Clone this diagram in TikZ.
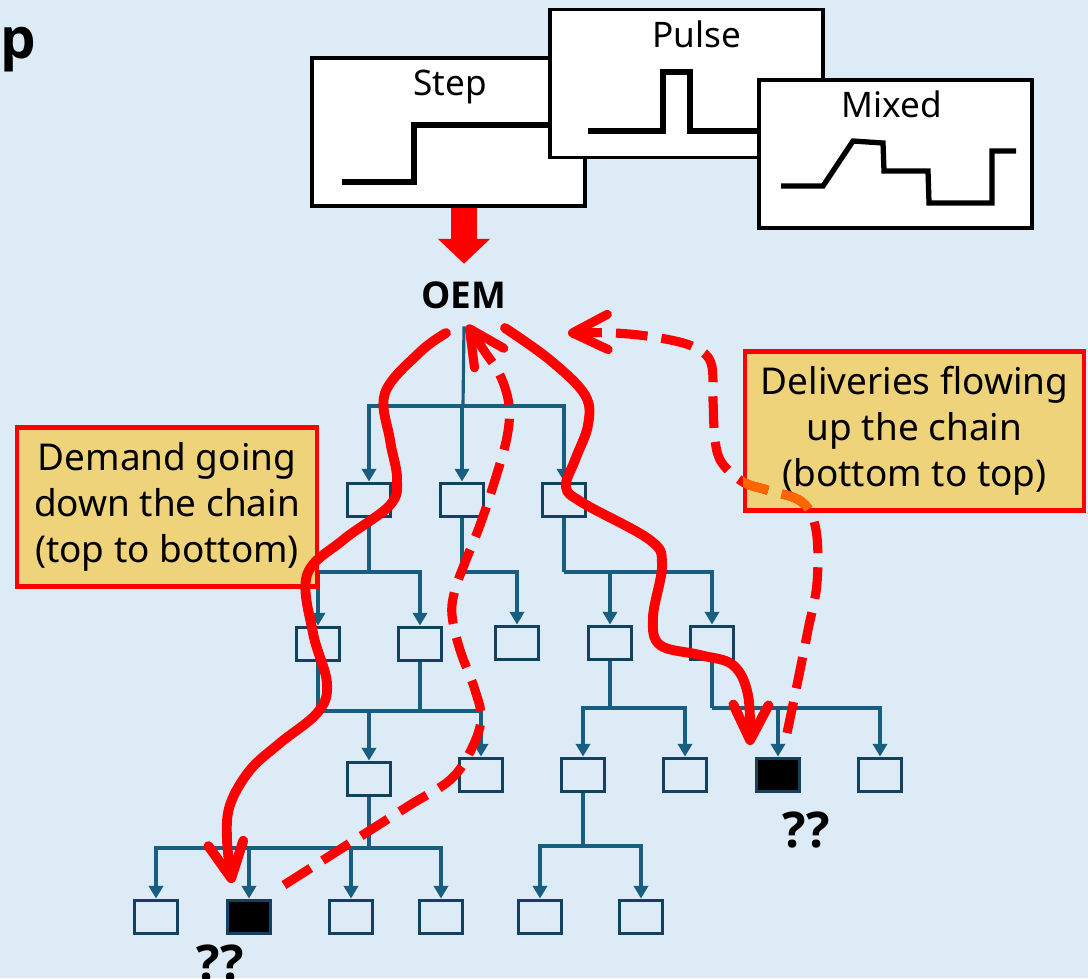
\documentclass[tikz,border=0pt]{standalone}
\usepackage{fontspec}
\setmainfont{Noto Sans}
\setsansfont{Noto Sans}
\newfontfamily\heavyfont{Open Sans}[UprightFont=* Bold]
\usepackage{tikz}
\usetikzlibrary{arrows.meta, positioning}

\definecolor{bgblue}{RGB}{221,235,247}
\definecolor{lineblue}{RGB}{24,94,128}
\definecolor{boxblue}{RGB}{18,66,96}
\definecolor{noteyellow}{RGB}{238,211,122}
\definecolor{dashorange}{RGB}{255,102,0}

% path of the right dashed curve, used twice
\newcommand{\upcurve}{plot[smooth, tension=0.6] coordinates {(787,733) (797,685) (808,630) (817,583) (816,530) (802,502) (767,490) (743,482) (722,463) (715,440) (713,400) (711,363) (694,347) (660,338) (615,333) (568,333)}}

\begin{document}
\begin{tikzpicture}[
    x=0.01cm, y=-0.01cm,
    sigbox/.style={rectangle, draw=black, fill=white, line width=1.1pt, minimum width=2.73cm, minimum height=1.48cm, inner sep=0pt},
    siglabel/.style={font=\sffamily\fontsize{10}{12}\selectfont, inner sep=0pt, anchor=base},
    wave/.style={line width=1.5pt, black},
    tbox/.style={rectangle, draw=boxblue, line width=1.1pt, minimum width=0.43cm, minimum height=0.33cm, inner sep=0pt},
    gapbox/.style={tbox, fill=black},
    link/.style={draw=lineblue, line width=0.9pt},
    feed/.style={link, -{Triangle[width=4pt, length=3.6pt]}},
    note/.style={rectangle, draw=red, fill=noteyellow, line width=1.2pt, minimum width=3cm, minimum height=1.59cm, align=center, font=\sffamily\fontsize{10.5}{13.1}\selectfont},
    demand/.style={red, line width=2.8pt, line cap=round, -{Straight Barb[length=10pt, width=10pt, round]}},
    delivery/.style={red, line width=2.6pt, dash pattern=on 9pt off 4pt, -{Straight Barb[length=10pt, width=10pt, round]}},
    qmark/.style={font=\heavyfont\fontsize{14}{16}\selectfont, inner sep=0pt}
]
    \fill[bgblue] (0,0) rectangle (1088,978);
    \useasboundingbox (0,0) rectangle (1088,978);

    \node[font=\heavyfont\fontsize{16}{18}\selectfont, inner sep=0pt, anchor=base west] (titlep) at (0,58) {p};

    % demand signals
    \node[sigbox] (stepbox) at (448.5,132) {};
    \node[siglabel] (steplbl) at (450,95) {Step};
    \draw[wave] (342,182) -- (414,182) -- (414,125) -- (560,125);
    \node[sigbox] (pulsebox) at (686.5,83.5) {};
    \node[siglabel] (pulselbl) at (697,47) {Pulse};
    \draw[wave] (588,131) -- (663,131) -- (663,72) -- (690,72) -- (690,131) -- (770,131);
    \node[sigbox] (mixedbox) at (895.5,154) {};
    \node[siglabel] (mixedlbl) at (892,117) {Mixed};
    \draw[wave] (781,186) -- (823,186) -- (853,141) -- (883,143) -- (884,171) -- (928,171) -- (929,203) -- (992,203) -- (992,151) -- (1016,151);

    \node[font=\heavyfont\fontsize{10.5}{12}\selectfont, inner sep=0.17cm] (oem) at (464,295) {OEM};
    \draw[red, line width=7.4pt, -{Triangle[width=14.5pt, length=7.1pt]}] (stepbox.south -| oem) -- (oem.north);

    % supply tree
    \node[tbox] (A) at (369,500) {};
    \node[tbox] (B) at (462,500) {};
    \node[tbox] (C) at (564,500) {};
    \node[tbox] (D) at (318,644) {};
    \node[tbox] (E) at (420,644) {};
    \node[tbox] (F) at (517,643) {};
    \node[tbox] (G) at (610,643) {};
    \node[tbox] (H) at (712,643) {};
    \node[tbox] (I) at (369,779) {};
    \node[tbox] (J) at (481,775) {};
    \node[tbox] (K) at (583,775) {};
    \node[tbox] (L) at (685,775) {};
    \node[gapbox] (gapright) at (778,775) {};
    \node[tbox] (N) at (880,775) {};
    \node[tbox] (P1) at (156,917) {};
    \node[gapbox] (gapleft) at (249,917) {};
    \node[tbox] (P3) at (351,917) {};
    \node[tbox] (P4) at (441,917) {};
    \node[tbox] (P5) at (540,917) {};
    \node[tbox] (P6) at (641,917) {};

    \coordinate (jO) at (463,406);
    \coordinate (jA) at (369,572);
    \coordinate (jB) at (462,572);
    \coordinate (jC) at (564,572);
    \coordinate (jD) at (369,711);
    \coordinate (jG) at (610,708);
    \coordinate (jH) at (712,708);
    \coordinate (jI) at (369,848);
    \coordinate (jK) at (583,846);

    \draw[link] (oem.south) -- (jO);
    \draw[feed] (jO) -| (A);
    \draw[feed] (jO) -| (B);
    \draw[feed] (jO) -| (C);
    \draw[link] (A) -- (jA);
    \draw[feed] (jA) -| (D);
    \draw[feed] (jA) -| (E);
    \draw[feed] (B) -- (jB) -| (F);
    \draw[link] (C) -- (jC);
    \draw[feed] (jC) -| (G);
    \draw[feed] (jC) -| (H);
    \draw[link] (D) -- (D |- jD) -- (E |- jD);
    \draw[link] (E) -- (E |- jD);
    \draw[feed] (jD) -- (I);
    \draw[feed] (E |- jD) -| (J);
    \draw[link] (G) -- (jG);
    \draw[feed] (jG) -| (K);
    \draw[feed] (jG) -| (L);
    \draw[link] (H) -- (jH);
    \draw[feed] (jH) -| (gapright);
    \draw[feed] (jH) -| (N);
    \draw[link] (I) -- (jI);
    \draw[feed] (jI) -| (P1);
    \draw[feed] (jI) -| (gapleft);
    \draw[feed] (jI) -| (P3);
    \draw[feed] (jI) -| (P4);
    \draw[link] (K) -- (jK);
    \draw[feed] (jK) -| (P5);
    \draw[feed] (jK) -| (P6);

    \node[qmark] (qright) at (806,830) {??};
    \node[qmark] (qleft) at (220,963) {??};

    % notes
    \node[note] (demandnote) at (167,507) {Demand going\\down the chain\\(top to bottom)};
    \node[note, minimum width=3.39cm] (deliverynote) at (914.5,431) {Deliveries flowing\\up the chain\\(bottom to top)};

    % demand down, deliveries up
    \draw[demand] plot[smooth, tension=0.6] coordinates {(446,333) (420,352) (385,393) (390,440) (397,478) (390,505) (343,540) (307,575) (313,633) (327,683) (318,712) (280,743) (250,770) (230,805) (227,840) (232,883)};
    \draw[demand] plot[smooth, tension=0.6] coordinates {(505,328) (550,360) (585,395) (588,425) (575,460) (566,487) (583,503) (650,540) (662,565) (653,617) (660,645) (700,655) (733,665) (748,695) (750,745)};
    \draw[delivery] plot[smooth, tension=0.6] coordinates {(284,885) (350,843) (410,805) (450,780) (470,752) (481,720) (475,690) (460,650) (452,615) (455,590) (466,560) (480,525) (495,480) (507,437) (509,405) (500,375) (485,352) (467,325)};
    \draw[delivery] \upcurve;
    \begin{scope}
        \clip (deliverynote.south west) rectangle (deliverynote.north east);
        \draw[delivery, dashorange] \upcurve;
    \end{scope}
\end{tikzpicture}
\end{document}
